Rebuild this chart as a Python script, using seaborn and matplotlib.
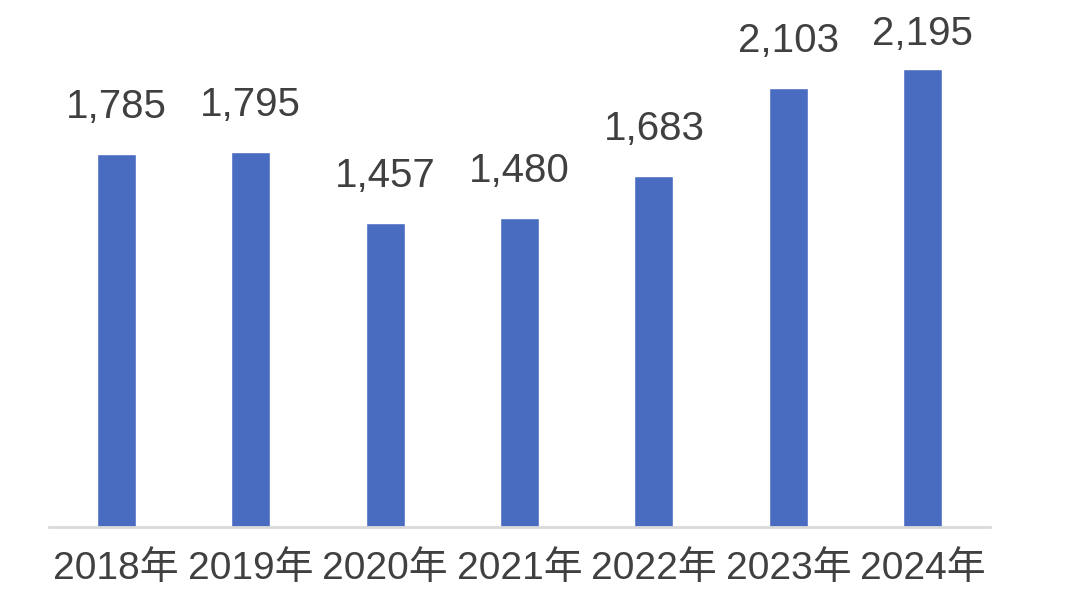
import matplotlib
matplotlib.use("Agg")
import matplotlib.pyplot as plt
import seaborn as sns
import pandas as pd

years = ["2018年", "2019年", "2020年", "2021年", "2022年", "2023年", "2024年"]
values = [1785, 1795, 1457, 1480, 1683, 2103, 2195]

sns.set_theme(style="white")
plt.rcParams['font.family'] = ['Liberation Sans', 'Noto Sans CJK JP', 'DejaVu Sans']

df = pd.DataFrame({"year": years, "value": values})

fig = plt.figure(figsize=(10.88, 5.98), dpi=100)
ax = fig.add_axes([49/1088, (598-527)/598, 941/1088, 517/598])
sns.barplot(data=df, x="year", y="value", color="#4A6CC0", saturation=1,
            width=0.29, ax=ax)
ax.set_xlim(-0.5, 6.5)
ymax = 2476
ax.set_ylim(0, ymax)

# labels sit above bars, but are kept inside the plot area
label_gap = 172
label_cap = 2308
for i, v in enumerate(values):
    ax.text(i, min(v + label_gap, label_cap), f"{v:,}",
            ha="center", va="baseline", fontsize=29, color="#404040")

ax.set_xlabel("")
ax.set_ylabel("")
ax.set_yticks([])
ax.tick_params(axis="x", length=0, pad=17, labelsize=28, labelcolor="#404040")
for s in ["left", "right", "top"]:
    ax.spines[s].set_visible(False)
ax.spines["bottom"].set_color("#D9D9D9")
ax.spines["bottom"].set_linewidth(2)

fig.savefig("out.png", dpi=100)
